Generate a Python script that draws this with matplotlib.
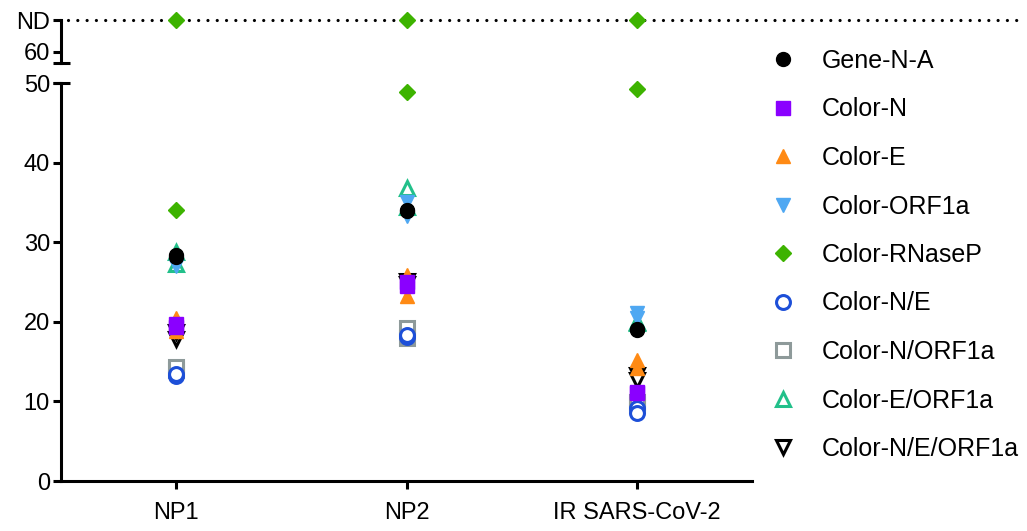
"""Ct values per sample and assay, with broken y axis (ND on top)."""
import matplotlib
matplotlib.use("Agg")
import matplotlib.pyplot as plt
from matplotlib.lines import Line2D
import numpy as np

plt.rcParams["font.family"] = ["Liberation Sans", "DejaVu Sans"]

# ── Data (two replicates per sample; "ND" = not detected) ────────────────────
SAMPLES = ["NP1", "NP2", "IR SARS-CoV-2"]

GENE_N_A     = [[28.1, 28.4], [33.9, 34.1], [19.0, 19.1]]
COLOR_N      = [[19.7, 19.4], [24.5, 25.0], [11.2, 11.0]]
COLOR_E      = [[20.5, 18.8], [25.9, 23.2], [15.2, 14.2]]
COLOR_ORF1A  = [[27.0, 27.5], [35.0, 33.3], [21.1, 20.5]]
COLOR_RNASEP = [[34.1, "ND"], [48.9, "ND"], [49.3, "ND"]]
COLOR_N_E    = [[13.2, 13.4], [18.1, 18.3], [9.2, 8.6]]
COLOR_N_ORF  = [[14.0, 14.3], [19.2, 18.0], [9.9, 9.6]]
COLOR_E_ORF  = [[28.8, 27.3], [36.8, 34.4], [20.0, 19.8]]
COLOR_NE_ORF = [[17.9, 18.7], [25.1, 24.8], [13.3, 12.7]]

ND_VALUE = 64  # where "ND" sits on the upper axis

# label, values, marker, colour, filled
SERIES = [
    ("Gene-N-A",         GENE_N_A,     "o", "#000000", True),
    ("Color-N",          COLOR_N,      "s", "#8a00ff", True),
    ("Color-E",          COLOR_E,      "^", "#ff8a14", True),
    ("Color-ORF1a",      COLOR_ORF1A,  "v", "#4fa8f2", True),
    ("Color-RNaseP",     COLOR_RNASEP, "D", "#3db300", True),
    ("Color-N/E",        COLOR_N_E,    "o", "#1d4fd8", False),
    ("Color-N/ORF1a",    COLOR_N_ORF,  "s", "#8e9a9a", False),
    ("Color-E/ORF1a",    COLOR_E_ORF,  "^", "#22c08a", False),
    ("Color-N/E/ORF1a",  COLOR_NE_ORF, "v", "#000000", False),
]

MS = {"o": 10, "s": 9.5, "^": 10, "v": 10, "D": 8.5}

# ── Figure ───────────────────────────────────────────────────────────────────
W, H = 1027, 531
fig = plt.figure(figsize=(W / 100, H / 100), dpi=100)

def px_axes(left, top, right, bottom):
    return fig.add_axes([left / W, 1 - bottom / H, (right - left) / W, (bottom - top) / H])

ax = px_axes(61, 83, 752, 481)      # lower: 0–50
ax_top = px_axes(61, 20, 752, 63)   # upper: 60–ND

LW = 2.2
for a in (ax, ax_top):
    a.set_xlim(-0.5, 2.5)
    a.spines[["top", "right"]].set_visible(False)
    a.spines["left"].set_linewidth(LW)
    a.spines["bottom"].set_linewidth(LW)
    a.tick_params(width=LW, length=6, labelsize=17, pad=2)
    a.patch.set_alpha(0)

ax.set_ylim(0, 50)
ax.set_yticks(range(0, 51, 10))
ax.set_xticks(range(len(SAMPLES)))
ax.set_xticklabels(SAMPLES)
ax.tick_params(axis="x", pad=9)

ax_top.set_ylim(58.6, ND_VALUE)
ax_top.set_yticks([60, ND_VALUE])
ax_top.set_yticklabels(["60", "ND"])
ax_top.spines["bottom"].set_visible(False)
ax_top.set_xticks([])

# break caps on both axis pieces
cap = [-0.5 - 0.036, -0.5 + 0.04]
ax.plot(cap, [50, 50], color="black", lw=LW, clip_on=False, solid_capstyle="butt")
ax_top.plot(cap, [58.6, 58.6], color="black", lw=LW, clip_on=False, solid_capstyle="butt")

# dotted ND line running across into the legend area
ax_top.plot([-0.47, 3.65], [ND_VALUE, ND_VALUE], color="black", lw=2.3,
            dashes=(0.01, 2.9), dash_capstyle="round", clip_on=False, zorder=1)

handles = []
n = len(SERIES)
for i, (label, vals, marker, color, filled) in enumerate(SERIES):
    z = 10 + (n - i)  # first series drawn on top
    kw = dict(marker=marker, ms=MS[marker], ls="none", zorder=z, clip_on=False)
    if filled:
        kw.update(color=color, mec=color)
    else:
        kw.update(mfc="white", mec=color, mew=2.2, color=color)
    for j, reps in enumerate(vals):
        low = [v for v in reps if v != "ND"]
        nd = [v for v in reps if v == "ND"]
        if low:
            ax.plot([j] * len(low), low, **kw)
        if nd:
            ax_top.plot([j] * len(nd), [ND_VALUE] * len(nd), **kw)
    handles.append(Line2D([], [], label=label, **{k: v for k, v in kw.items() if k not in ("zorder", "clip_on")}))

fig.legend(handles=handles, loc="upper left", bbox_to_anchor=(770 / W, 1 - 49 / H),
           frameon=False, fontsize=18, handlelength=1.0, handletextpad=1.06,
           labelspacing=0.98, borderpad=0, borderaxespad=0)

fig.savefig("out.png", dpi=100)
